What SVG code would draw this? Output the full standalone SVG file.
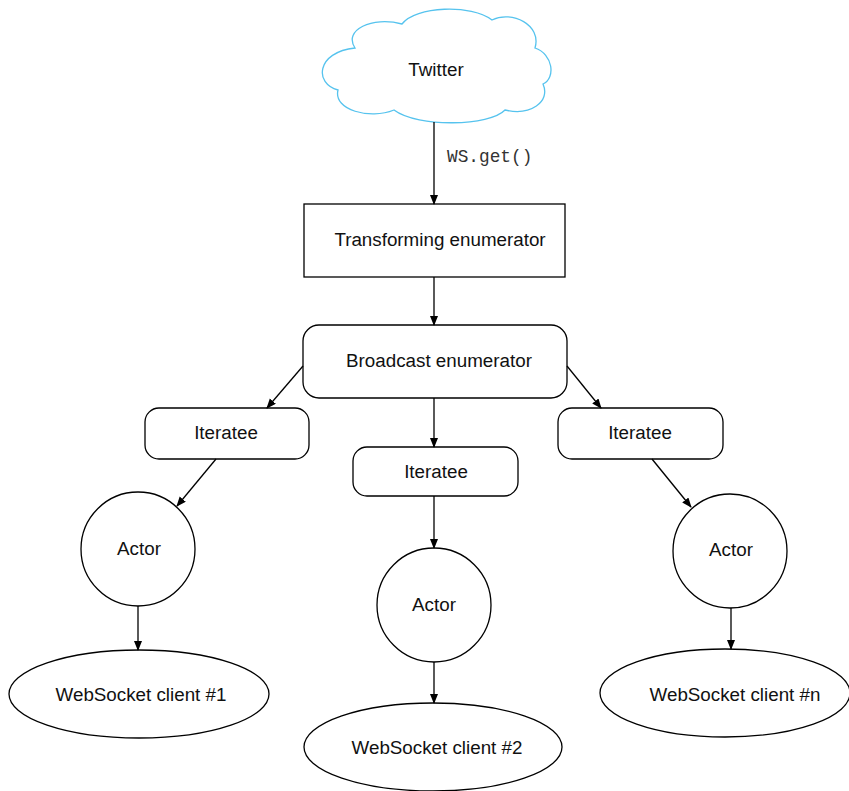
<svg xmlns="http://www.w3.org/2000/svg" width="849" height="791" viewBox="0 0 849 791">
<defs>
<marker id="arr" markerWidth="10" markerHeight="10" refX="9" refY="4" orient="auto" markerUnits="userSpaceOnUse">
<path d="M0,0 L10,4 L0,8 Z" fill="#000"/>
</marker>
<style>
.n{fill:#fff;stroke:#000;stroke-width:1.3}
.t{font-family:"Liberation Sans",Arial,sans-serif;font-size:18.8px;fill:#111;text-anchor:middle;dominant-baseline:central}
.m{font-family:"Liberation Mono","Courier New",monospace;font-size:17.8px;fill:#333}
.c{fill:none;stroke:#000;stroke-width:1.3;marker-end:url(#arr)}
</style>
</defs>
<rect width="849" height="791" fill="#fff"/>
<g id="twitter">
<path d="M355,48 C343,30 372,16 402,24 C415,6 472,4 492,20 C512,10 542,25 535,48 C553,54 556,78 543,84 C551,102 530,116 505,110 C490,126 418,128 394,110 C370,120 333,110 338,90 C314,84 316,52 355,48 Z" fill="#fff" stroke="#56c3ee" stroke-width="1.3"/>
<text class="t" x="436" y="69">Twitter</text>
</g>
<g id="transform">
<rect class="n" x="304" y="204" width="261" height="73"/>
<text class="t" x="440" y="239">Transforming enumerator</text>
</g>
<g id="broadcast">
<rect class="n" x="303" y="325" width="264" height="73" rx="16"/>
<text class="t" x="439" y="360">Broadcast enumerator</text>
</g>
<g id="iter1">
<rect class="n" x="145" y="408" width="164" height="51" rx="14"/>
<text class="t" x="226" y="432">Iteratee</text>
</g>
<g id="iter2">
<rect class="n" x="353" y="447" width="165" height="49" rx="14"/>
<text class="t" x="436" y="471">Iteratee</text>
</g>
<g id="iter3">
<rect class="n" x="558" y="408" width="165" height="51" rx="14"/>
<text class="t" x="640" y="432">Iteratee</text>
</g>
<g id="actor1">
<circle class="n" cx="138" cy="549" r="57"/>
<text class="t" x="139" y="548">Actor</text>
</g>
<g id="actor2">
<circle class="n" cx="434" cy="605" r="57"/>
<text class="t" x="434" y="604">Actor</text>
</g>
<g id="actor3">
<circle class="n" cx="730" cy="551" r="57"/>
<text class="t" x="731" y="549">Actor</text>
</g>
<g id="client1">
<ellipse class="n" cx="139" cy="694" rx="130" ry="44"/>
<text class="t" x="141" y="694">WebSocket client #1</text>
</g>
<g id="client2">
<ellipse class="n" cx="433" cy="747" rx="129" ry="44"/>
<text class="t" x="437" y="747">WebSocket client #2</text>
</g>
<g id="clientn">
<ellipse class="n" cx="725" cy="693" rx="125" ry="44"/>
<text class="t" x="735" y="694">WebSocket client #n</text>
</g>
<g id="connectors">
<path class="c" d="M434,122 L434,204"/>
<text class="m" x="447" y="162">WS.get()</text>
<path class="c" d="M434,277 L434,325"/>
<path class="c" d="M303,366 L267,408"/>
<path class="c" d="M434,398 L434,447"/>
<path class="c" d="M567,366 L601,408"/>
<path class="c" d="M216,459 L177,506"/>
<path class="c" d="M434,496 L434,548"/>
<path class="c" d="M652,459 L691,507"/>
<path class="c" d="M138,606 L138,650"/>
<path class="c" d="M434,662 L434,703"/>
<path class="c" d="M731,608 L731,649"/>
</g>
</svg>
